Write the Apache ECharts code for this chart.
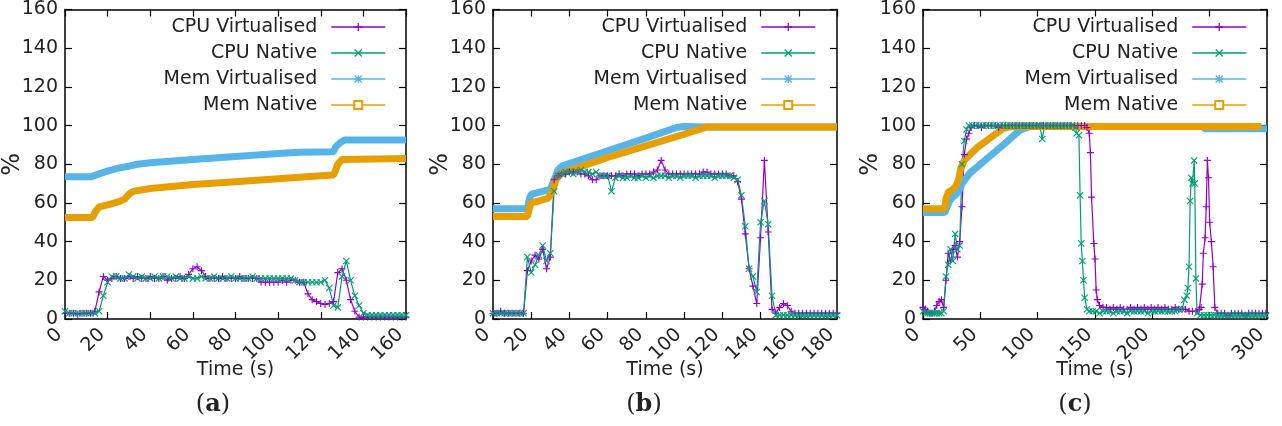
<!DOCTYPE html>
<html>
<head>
<meta charset="utf-8">
<title>CPU and memory usage</title>
<script src="https://cdn.jsdelivr.net/npm/echarts@6/dist/echarts.min.js"></script>
<style>
  html, body { margin: 0; padding: 0; background: #fff; }
  #main { width: 1282px; height: 426px; }
</style>
</head>
<body>
<div id="main"></div>
<script>
// ---- panel (a) ----
const timeA = [0,2,4,6,8,10,12,14,16,18,20,22,24,26,28,30,32,34,36,38,40,42,44,46,48,50,52,54,56,58,
  60,62,64,66,68,70,72,74,76,78,80,82,84,86,88,90,92,94,96,98,100,102,104,106,108,110,112,114,116,118,
  120,122,124,126,128,130,132,134,136,138,140,142,144,146,148,150,152,154,156,158,160];
const cpuVirtA = [3,3,3,2.5,3,3,3,4,14,22, 20,21,22,21,21,22,21,22,21,21, 22,21,21,22,20,21,21,22,21,23,
  26,27,25,22,21,21,21,22,21,21, 21,22,21,21,21,21,19,19,19,19, 19,20,19,20,20,19,19,13,10,9,
  8,7.5,8,9,24,26,20,10,4,1, 1,1,1,1,1,1,1,1,1,1, 1];
const cpuNatA = [4,3,3,3,3,3,3,3,4,12, 19,22,22,21,21,23,22,21,22,21, 21,22,21,22,22,21,22,21,21,22,
  21,21,22,21,21,22,21,21,21,22, 21,21,21,21,22,21,21,21,21,21, 21,21,21,21,20,19,19,19,19,19,
  19,20,16,7,6,22,30,20,12,7, 3,2,2,2,2,2,2,2,2,2, 2];
const memVirtA = [[0,73.5],[12,73.5],[16,75],[20,76.5],[25,78],[30,79],[34,80],[40,80.8],[60,82.5],[80,84],
  [100,85.5],[110,86.2],[126,86.5],[127,89],[129,91],[131,92.5],[160,92.5]];
const memNatA = [[0,52.5],[13,52.5],[14,55],[16,58],[20,59],[25,60.5],[28,62],[30,64.5],[32,66],[40,67.5],
  [60,69.5],[80,71],[100,72.5],[120,74],[126,74.5],[127,77],[128,80],[130,82.5],[160,83]];

// ---- panel (b) ----
const timeB = [0,2,4,6,8,10,12,14,16,18,20,22,24,26,28,30,32,34,36,38,40,42,44,46,48,50,52,54,56,58,
  60,62,64,66,68,70,72,74,76,78,80,82,84,86,88,90,92,94,96,98,100,102,104,106,108,110,112,114,116,118,
  120,122,124,126,128,130,132,134,136,138,140,142,144,146,148,150,152,154,156,158,
  160,162,164,166,168,170,172,174,176,178,180];
const cpuVirtB = [3,3,4,3,3,3,3,3,3,25, 30,33,31,36,26,32,72,74,75,75, 76,76,76,75,75,74,72,72,74,74,
  74,74,74,75,74,75,75,75,74,75, 75,75,76,77,82,77,75,75,75,75, 75,75,75,75,75,76,76,75,75,75,
  75,75,74,74,71,62,44,26,17,8, 42,82,45,5,3,6,8,7,4,3, 3,3,3,3,3,3,3,3,3,3, 3];
const cpuNatB = [3,3,3,3,3,3,3,3,3,32, 24,28,33,38,30,34,66,74,75,76, 76,75,76,77,76,76,75,76,74,74,
  74,66,73,74,73,73,74,73,73,74, 73,74,73,74,74,74,73,74,74,73, 74,74,74,73,74,74,74,74,73,74,
  74,74,74,73,72,64,48,26,22,14, 50,61,49,12,2,2,2,2,2,2, 2,2,2,2,2,2,2,2,2,2, 2];
const memVirtB = [[0,57],[18,57],[19,62],[20,64.5],[24,65.5],[30,67],[32,72],[34,77],[36,79],[60,87],
  [80,93.5],[96,99],[100,99.5],[112,99.3],[180,99.3]];
const memNatB = [[0,53],[18,53],[19,57],[20,60],[24,61],[29,62.5],[31,66],[33,72],[35,75],[60,83.5],
  [80,89.5],[100,95.5],[112,99.3],[180,99.3]];

// ---- panel (c) ----
const cpuVirtC = [[0,6],[2,5],[4,4],[6,3],[8,3],[10,4],[12,7],[14,9],[16,10],[18,6],[20,20],[22,34],[24,30],
  [26,36],[28,38],[30,32],[32,40],[34,58],[36,85],[38,93],[40,96],[42,99],[45,100],[48,100],[51,99],[54,100],
  [57,100],[60,100],[63,100],[66,99],[69,100],[72,100],[75,100],[78,100],[81,100],[84,100],[87,100],[90,100],
  [93,100],[96,100],[99,100],[102,100],[105,100],[108,100],[111,100],[114,100],[117,100],[120,100],[123,100],
  [126,100],[129,100],[132,100],[135,100],[138,100],[141,100],[143,99],[145,96],[146,86],[147,63],[149,39],
  [150,31],[151,15],[152,10],[154,7],[157,6],[160,6],[163,5],[166,6],[169,5],[172,6],[175,5],[178,5],[181,6],
  [184,5],[187,6],[190,5],[193,6],[196,5],[199,6],[202,5],[205,6],[208,5],[211,6],[214,5],[217,5],[220,6],
  [223,5],[226,5],[229,5],[232,4],[235,4],[238,4],[241,5],[242.5,6],[243.5,18],[244.5,34],[246,42],[247,58],
  [248,82],[249,73],[250,50],[251.5,40],[253,27],[254.5,6],[257,3],[260,3],[263,3],[266,2],[269,3],[272,3],
  [275,3],[278,3],[281,2],[284,3],[287,3],[290,3],[293,3],[296,3],[299,3]];
const cpuNatC = [[0,4],[2,3],[4,3],[6,3],[8,3],[10,3],[12,3],[14,3],[16,3],[18,4],[20,22],[22,28],[24,36],
  [26,30],[28,44],[30,36],[32,38],[34,80],[36,92],[38,98],[40,100],[43,100],[46,100],[49,100],[52,100],
  [55,100],[58,100],[61,100],[64,100],[67,100],[70,100],[73,100],[76,100],[79,100],[82,100],[85,100],[88,100],
  [91,100],[94,100],[97,100],[100,100],[102,100],[104,93],[106,100],[109,100],[112,100],[115,100],[118,100],
  [121,100],[124,100],[127,100],[130,100],[133,99],[134,96],[136,95],[137,64],[138,39],[139,30],[140,20],
  [141,11],[143,5],[145,4],[148,4],[151,4],[154,3],[157,4],[160,4],[163,4],[166,3],[169,4],[172,4],[175,4],
  [178,3],[181,4],[184,4],[187,4],[190,4],[193,4],[196,3],[199,4],[202,4],[205,4],[208,4],[211,4],[214,4],
  [217,4],[220,4],[223,5],[226,5],[228,10],[230,12],[231,16],[232,27],[233,61],[234,73],[235,70],[236.5,82],
  [237,70],[238,21],[239,3],[242,2],[245,2],[248,2],[251,2],[254,2],[257,2],[260,2],[263,2],[266,2],[269,2],
  [272,2],[275,2],[278,2],[281,2],[284,2],[287,2],[290,2],[293,2],[296,2],[299,2]];
const memVirtC = [[0,55],[19,55],[21,58],[24,62],[28,64],[31,66],[34,70],[41,75.5],[55,82.5],[70,90],
  [84,97.4],[93,99.5],[244,99.5],[246,98.3],[300,98.3]];
const memNatC = [[0,57],[19,57],[20,62],[22,65.5],[26,67],[29,69],[31,72],[33,78],[36,82],[41,85],[48,89],
  [55,92],[63,95.5],[70,98.5],[77,99.5],[295,99.5]];

const names = ['CPU Virtualised', 'CPU Native', 'Mem Virtualised', 'Mem Native'];
const colors = ['#9400d3', '#009e73', '#56b4e9', '#e69f00'];
const captions = ['a', 'b', 'c'];

const PLUS = 'path://M4.2,0H5.8V4.2H10V5.8H5.8V10H4.2V5.8H0V4.2H4.2Z';
const CROSS = 'path://M0,1.1L1.1,0L5,3.9L8.9,0L10,1.1L6.1,5L10,8.9L8.9,10L5,6.1L1.1,10L0,8.9L3.9,5Z';
const STAR = 'path://M4.2,0H5.8V4.2H10V5.8H5.8V10H4.2V5.8H0V4.2H4.2Z M0,1.1L1.1,0L5,3.9L8.9,0L10,1.1L6.1,5L10,8.9L8.9,10L5,6.1L1.1,10L0,8.9L3.9,5Z';

const FONT = 'DejaVu Sans';
const TXT = '#222';

const pair = (t, v) => t.map((x, i) => [x, v[i]]);

const panels = [
  { left: 62, xmax: 160, step: 20, legendRight: 896, capX: 213,
    data: [pair(timeA, cpuVirtA), pair(timeA, cpuNatA), memVirtA, memNatA] },
  { left: 493, xmax: 180, step: 20, legendRight: 466, capX: 644,
    data: [pair(timeB, cpuVirtB), pair(timeB, cpuNatB), memVirtB, memNatB] },
  { left: 923, xmax: 300, step: 50, legendRight: 35, capX: 1075,
    data: [cpuVirtC, cpuNatC, memVirtC, memNatC] }
];

const grid = [], xAxis = [], yAxis = [], series = [], legend = [], graphic = [];
const frame = { onZero: false, lineStyle: { color: '#000', width: 1.5 } };
const tick = { inside: true, length: 7, lineStyle: { color: '#000', width: 1.2 } };

panels.forEach((p, i) => {
  grid.push({ left: p.left, top: 7, width: 344, height: 312 });
  xAxis[i] = {
    type: 'value', gridIndex: i, min: 0, max: p.xmax, interval: p.step, position: 'bottom',
    axisLine: frame, axisTick: tick, splitLine: { show: false },
    axisLabel: { rotate: 45, margin: 7, padding: [0, 8, 0, 0], fontSize: 19, fontFamily: FONT, color: TXT },
    name: 'Time (s)', nameLocation: 'middle', nameGap: 42, nameMoveOverlap: false,
    nameTextStyle: { fontSize: 19, fontFamily: FONT, color: TXT }
  };
  xAxis[i + 3] = {
    type: 'value', gridIndex: i, min: 0, max: p.xmax, interval: p.step, position: 'top',
    axisLine: frame, axisTick: tick, axisLabel: { show: false }, splitLine: { show: false }
  };
  yAxis[i] = {
    type: 'value', gridIndex: i, min: 0, max: 160, interval: 20, position: 'left',
    axisLine: frame, axisTick: tick, splitLine: { show: false },
    axisLabel: { margin: 7, fontSize: 19, fontFamily: FONT, color: TXT },
    name: '%', nameLocation: 'middle', nameRotate: 90, nameGap: 40, nameMoveOverlap: false,
    nameTextStyle: { fontSize: 24, fontFamily: FONT, color: TXT }
  };
  yAxis[i + 3] = {
    type: 'value', gridIndex: i, min: 0, max: 160, interval: 20, position: 'right',
    axisLine: frame, axisTick: tick, axisLabel: { show: false }, splitLine: { show: false }
  };

  const syms = [PLUS, CROSS, STAR, 'emptyRect'];
  p.data.forEach((d, k) => {
    const mem = k >= 2;
    series.push({
      name: names[k], type: 'line', xAxisIndex: i, yAxisIndex: i, data: d,
      symbol: syms[k], symbolSize: 7, showSymbol: !mem, showAllSymbol: true,
      color: colors[k],
      lineStyle: { color: colors[k], width: mem ? 7 : 1.2 },
      itemStyle: { color: colors[k] },
      emphasis: { disabled: true }, animation: false
    });
  });

  legend.push({
    orient: 'vertical', align: 'right', right: p.legendRight, top: 17, padding: 0,
    itemWidth: 54, itemHeight: 10, itemGap: 6, selectedMode: false,
    lineStyle: { width: 1.5 },
    textStyle: { fontSize: 19, fontFamily: FONT, color: TXT, lineHeight: 20, padding: [0, 9, 0, 0] },
    data: names
  });

  graphic.push({
    type: 'text', x: p.capX, y: 405,
    style: {
      text: '{p|(}{b|' + captions[i] + '}{p|)}', align: 'center', verticalAlign: 'middle',
      rich: {
        p: { fontFamily: 'DejaVu Serif', fontSize: 24, fill: TXT },
        b: { fontFamily: 'DejaVu Serif', fontSize: 24, fontWeight: 'bold', fill: TXT }
      }
    }
  });
});

const chart = echarts.init(document.getElementById('main'));
chart.setOption({
  backgroundColor: '#fff',
  animation: false,
  grid: grid,
  xAxis: xAxis,
  yAxis: yAxis,
  legend: legend,
  series: series,
  graphic: graphic
});
</script>
</body>
</html>
